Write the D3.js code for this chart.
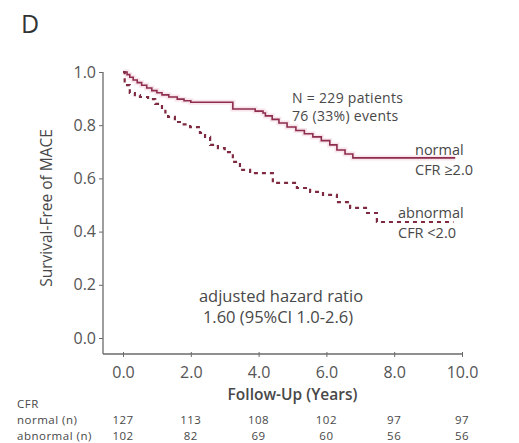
<!DOCTYPE html>
<html>
<head>
<meta charset="utf-8">
<script src="https://cdn.jsdelivr.net/npm/d3@7"></script>
<style>
  html, body { margin: 0; padding: 0; background: #fff; }
  svg { display: block; font-family: "Open Sans", "DejaVu Sans", sans-serif; }
</style>
</head>
<body>
<svg id="chart" width="519" height="443"></svg>
<script>
// Follow-up axis ticks (years) and survival ticks
const yearTicks = [0, 2, 4, 6, 8, 10];
const survTicks = [0, 0.2, 0.4, 0.6, 0.8, 1.0];

// Kaplan-Meier steps: time of each drop (years) and survival after it
const normalTime = [0, 0.12, 0.2, 0.3, 0.42, 0.55, 0.7, 0.85, 1.0, 1.15, 1.35, 1.6, 1.8, 2.0,
  3.24, 3.9, 4.13, 4.2, 4.4, 4.6, 4.84, 5.1, 5.35, 5.6, 5.85, 6.1, 6.31, 6.55, 6.78, 9.8];
const normalSurv = [1.0, 0.99, 0.98, 0.97, 0.96, 0.95, 0.94, 0.93, 0.922, 0.914, 0.906, 0.898, 0.892, 0.886,
  0.861, 0.853, 0.846, 0.835, 0.822, 0.808, 0.793, 0.78, 0.768, 0.756, 0.742, 0.726, 0.707, 0.692, 0.677, 0.677];

const abnormalTime = [0, 0.05, 0.12, 0.2, 0.35, 0.5, 0.74, 0.95, 1.15, 1.25, 1.33, 1.53, 1.75, 1.98,
  2.27, 2.42, 2.57, 2.8, 3.0, 3.24, 3.45, 3.75, 4.42, 5.13, 5.52, 5.9, 6.31, 6.7, 7.2, 7.49, 9.75];
const abnormalSurv = [1.0, 0.965, 0.951, 0.921, 0.913, 0.906, 0.898, 0.88, 0.865, 0.848, 0.831, 0.812, 0.803, 0.793,
  0.771, 0.756, 0.726, 0.714, 0.699, 0.662, 0.632, 0.62, 0.583, 0.564, 0.549, 0.538, 0.511, 0.489, 0.47, 0.436, 0.436];

// Numbers at risk
const riskGroups = ["normal (n)", "abnormal (n)"];
const atRiskNormal = [127, 113, 108, 102, 97, 97];
const atRiskAbnormal = [102, 82, 69, 60, 56, 56];

const textColor = "#484848";
const axisColor = "#6a6a6a";
const normalColor = "#8e2d4c";
const abnormalColor = "#7e2a40";

const svg = d3.select("#chart");

const x = d3.scaleLinear().domain([0, 10]).range([123, 462]);
const y = d3.scaleLinear().domain([0, 1]).range([338, 72]);
const axisLeftX = 103;
const axisBottomY = 354;

// Panel letter
svg.append("text").attr("x", 21).attr("y", 33)
  .attr("font-size", 25).attr("fill", "#333").text("D");

// Y axis
const yAxis = d3.axisLeft(y).tickValues(survTicks).tickFormat(d3.format(".1f"))
  .tickSize(4).tickPadding(3);
const gy = svg.append("g").attr("transform", `translate(${axisLeftX},0)`).call(yAxis);
gy.select(".domain").attr("d", `M0,${y(1)}V${axisBottomY}`);

// X axis
const xAxis = d3.axisBottom(x).tickValues(yearTicks).tickFormat(d3.format(".1f"))
  .tickSize(3).tickPadding(9.5);
const gx = svg.append("g").attr("transform", `translate(0,${axisBottomY})`).call(xAxis);
gx.select(".domain").attr("d", `M${axisLeftX},0H${x(10)}`);
gx.selectAll(".tick line").attr("y1", -2);

[gx, gy].forEach(g => {
  g.select(".domain").attr("stroke", axisColor).attr("stroke-width", 1.3);
  g.selectAll(".tick line").attr("stroke", axisColor);
  g.selectAll(".tick text").attr("fill", "#555").attr("font-size", 16)
    .attr("font-family", "'Open Sans', sans-serif");
});

// Axis titles
svg.append("text")
  .attr("transform", `translate(52,${(y(1) + axisBottomY) / 2 - 5}) rotate(-90)`)
  .attr("text-anchor", "middle").attr("font-size", 15.5).attr("fill", textColor)
  .text("Survival-Free of MACE");

svg.append("text").attr("x", x(5)).attr("y", 400)
  .attr("text-anchor", "middle").attr("font-size", 15.5).attr("font-weight", 600)
  .attr("fill", textColor).text("Follow-Up (Years)");

// Survival curves
const line = d3.line().x(d => x(d[0])).y(d => y(d[1])).curve(d3.curveStepAfter);
const normalData = d3.zip(normalTime, normalSurv);
const abnormalData = d3.zip(abnormalTime, abnormalSurv);

svg.append("path").datum(normalData).attr("d", line)
  .attr("fill", "none").attr("stroke", "#f2d3dd").attr("stroke-width", 5).attr("opacity", 0.6);
svg.append("path").datum(normalData).attr("d", line)
  .attr("fill", "none").attr("stroke", normalColor).attr("stroke-width", 1.6);

svg.append("path").datum(abnormalData).attr("d", line)
  .attr("fill", "none").attr("stroke", abnormalColor).attr("stroke-width", 2.2)
  .attr("stroke-dasharray", "4,4");

// Curve labels
const labels = [
  { lines: ["normal", "CFR \u22652.0"], x: 415, y: 155 },
  { lines: ["abnormal", "CFR <2.0"], x: 398, y: 218 }
];
labels.forEach(l => {
  l.lines.forEach((t, i) => {
    svg.append("text").attr("x", l.x).attr("y", l.y + i * 20)
      .attr("font-size", 14.5).attr("fill", textColor).text(t);
  });
});

// Annotations
svg.append("text").attr("x", 292).attr("y", 103).attr("font-size", 14).attr("fill", textColor)
  .attr("letter-spacing", 0.3).text("N = 229 patients");
svg.append("text").attr("x", 292).attr("y", 121).attr("font-size", 14).attr("fill", textColor)
  .attr("letter-spacing", 0.3).text("76 (33%) events");
svg.append("text").attr("x", 281).attr("y", 302).attr("text-anchor", "middle")
  .attr("font-size", 16.5).attr("fill", textColor).text("adjusted hazard ratio");
svg.append("text").attr("x", 278).attr("y", 323).attr("text-anchor", "middle")
  .attr("font-size", 16.5).attr("fill", textColor).text("1.60 (95%CI 1.0-2.6)");

// Numbers-at-risk table
const tableFont = 11.5;
const rowGap = 15.8;
const firstRowY = 423.7;
svg.append("text").attr("x", 17).attr("y", firstRowY - rowGap).attr("font-size", tableFont)
  .attr("letter-spacing", 0.5).attr("fill", textColor).text("CFR");
const riskRows = [atRiskNormal, atRiskAbnormal];
riskRows.forEach((row, r) => {
  const yy = firstRowY + r * rowGap;
  svg.append("text").attr("x", 17).attr("y", yy).attr("font-size", tableFont)
    .attr("letter-spacing", 0.5).attr("fill", textColor).text(riskGroups[r]);
  svg.selectAll(null).data(row).enter().append("text")
    .attr("x", (d, i) => x(yearTicks[i])).attr("y", yy)
    .attr("text-anchor", "middle").attr("font-size", tableFont)
    .attr("letter-spacing", 0.5).attr("fill", textColor)
    .text(d => d);
});
</script>
</body>
</html>
